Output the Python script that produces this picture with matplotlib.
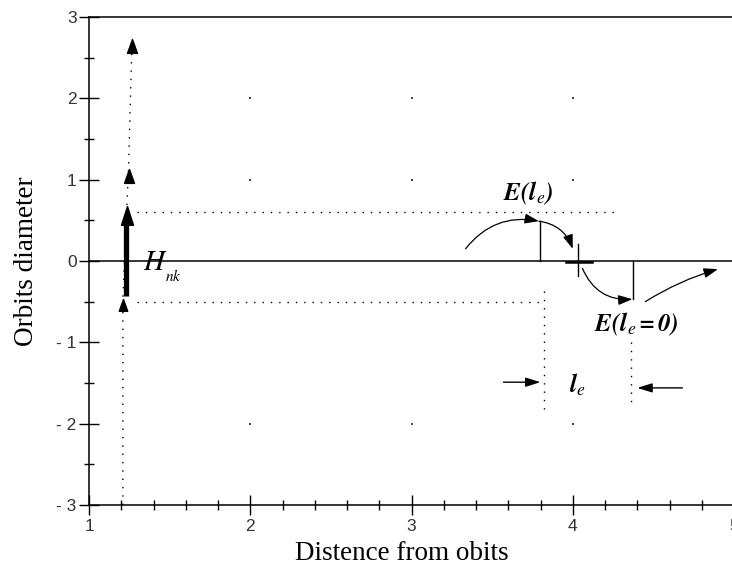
import matplotlib
matplotlib.use("Agg")
import matplotlib.pyplot as plt
from matplotlib.patches import FancyArrowPatch
from matplotlib.ticker import FixedLocator, FixedFormatter, MultipleLocator

plt.rcParams["mathtext.fontset"] = "stix"

# axis setup
x_ticks = [1, 2, 3, 4, 5]
x_tick_labels = ["1", "2", "3", "4", "5"]
y_ticks = [-3, -2, -1, 0, 1, 2, 3]
y_tick_labels = ["- 3", "- 2", "- 1", "0", "1", "2", "3"]

# sparse grid dots
grid_x = [2, 3, 4, 2, 3, 4, 2, 3, 4]
grid_y = [2, 2, 2, 1, 1, 1, -2, -2, -2]

# vertical dotted guide (bottom to top, with arrow tips)
guide_x = [1.21, 1.21, 1.235, 1.245, 1.267]
guide_y = [-3.0, -0.47, 0.68, 1.13, 2.73]
tip_x = [1.245, 1.267]
tip_y = [1.13, 2.73]
low_tip = (1.21, -0.47)

# thick H_nk arrow
hnk_x = [1.232, 1.232]
hnk_y = [-0.43, 0.45]
hnk_tip = (1.235, 0.68)

# horizontal dotted levels
level_upper = (0.6, 1.3, 4.27)
level_lower = (-0.5, 1.3, 3.82)

# vertical dotted markers for l_e
le_left = (3.82, -0.37, -1.82)
le_right = (4.36, -1.0, -1.77)

# measurement arrows  (start, end, y)
arrow_in_left = (3.57, 3.80, -1.49)
arrow_in_right = (4.68, 4.40, -1.56)

# curve pieces: (x0, y0, x1, y1, rad)
curves = [
    (3.335, 0.15, 3.79, 0.49, -0.3),
    (3.79, 0.49, 4.00, 0.15, -0.3),
    (4.06, -0.09, 4.37, -0.47, 0.35),
    (4.45, -0.50, 4.90, -0.10, -0.07),
]

# drops from extremes to the axis
drop_x = [3.795, 4.373]
drop_y = [0.49, -0.47]

# crossing mark
cross_x = 4.03
cross_y = (-0.18, 0.21)
dash_x = (3.96, 4.12)
dash_y = -0.015

fig = plt.figure(figsize=(7.32, 5.70), dpi=100)
ax = fig.add_axes([89 / 732, 65 / 570, 645 / 732, 488 / 570])
ax.set_xlim(1, 5)
ax.set_ylim(-3, 3)

for side in ["left", "bottom", "top"]:
    ax.spines[side].set_linewidth(1.1)
ax.spines["right"].set_visible(False)

ax.xaxis.set_major_locator(FixedLocator(x_ticks))
ax.xaxis.set_major_formatter(FixedFormatter(x_tick_labels))
ax.yaxis.set_major_locator(FixedLocator(y_ticks))
ax.yaxis.set_major_formatter(FixedFormatter(y_tick_labels))
ax.xaxis.set_minor_locator(MultipleLocator(0.2))
ax.yaxis.set_minor_locator(MultipleLocator(0.5))
ax.tick_params(which="major", direction="inout", length=14, width=1.0, labelsize=12.5, colors="black")
ax.tick_params(which="minor", direction="inout", length=7, width=1.0)
ax.tick_params(axis="x", which="major", pad=3)
ax.tick_params(axis="y", which="major", pad=2)
for lab in ax.get_xticklabels() + ax.get_yticklabels():
    lab.set_fontfamily("Liberation Sans")
    lab.set_color("#333333")

ax.set_xlabel("Distence from obits", fontfamily="Liberation Serif", fontsize=19.5)
ax.set_ylabel("Orbits diameter", fontfamily="Liberation Serif", fontsize=19.5)
ax.xaxis.set_label_coords(0.485, -0.074)
ax.yaxis.set_label_coords(-0.078, 0.5)

ax.axhline(0, color="black", lw=1.1)

ax.scatter(grid_x, grid_y, s=1.5, color="#444444", marker="s", linewidths=0)

dotted = dict(color="black", lw=1.0, linestyle=(0, (1, 5)))
ax.plot(guide_x, guide_y, **dotted)
ax.plot([level_upper[1], level_upper[2]], [level_upper[0]] * 2, **dotted)
ax.plot([level_lower[1], level_lower[2]], [level_lower[0]] * 2, **dotted)
ax.plot([le_left[0]] * 2, [le_left[1], le_left[2]], **dotted)
ax.plot([le_right[0]] * 2, [le_right[1], le_right[2]], **dotted)

small_head = [(0, 0), (-0.36, -1), (0.36, -1), (0, 0)]
big_head = [(0, 0), (-0.32, -1), (0.32, -1), (0, 0)]
ax.plot(tip_x, tip_y, linestyle="none", marker=small_head, markersize=20, color="black")
ax.plot([low_tip[0]], [low_tip[1]], linestyle="none", marker=small_head, markersize=17, color="black")

ax.plot(hnk_x, hnk_y, color="black", lw=3.8, solid_capstyle="butt")
ax.plot([hnk_tip[0]], [hnk_tip[1]], linestyle="none", marker=big_head, markersize=27, color="black")

for x0, x1, y in [arrow_in_left, arrow_in_right]:
    ax.annotate("", xy=(x1, y), xytext=(x0, y),
                arrowprops=dict(arrowstyle="-|>,head_length=0.9,head_width=0.28",
                                color="black", lw=1.0, mutation_scale=10, shrinkA=0, shrinkB=0))

for x0, y0, x1, y1, rad in curves:
    ax.add_patch(FancyArrowPatch((x0, y0), (x1, y1), connectionstyle=f"arc3,rad={rad}",
                                 arrowstyle="-|>,head_length=0.85,head_width=0.3",
                                 mutation_scale=10, color="black", lw=0.9,
                                 shrinkA=0, shrinkB=0))

for x, y in zip(drop_x, drop_y):
    ax.plot([x, x], [0, y], color="black", lw=1.0)

ax.plot([cross_x, cross_x], list(cross_y), color="black", lw=1.0)
ax.plot(list(dash_x), [dash_y, dash_y], color="black", lw=1.8)

ax.text(1.335, -0.11, r"$H$", fontsize=21, ha="left", va="baseline")
ax.text(1.47, -0.25, r"$nk$", fontsize=11, ha="left", va="baseline")
ax.text(3.565, 0.74, r"$\mathbfit{E(l}_{e}\mathbfit{)}$", fontsize=18, ha="left", va="baseline")
ax.text(4.13, -0.86, r"$\mathbfit{E(l}_{e}\mathbfit{=0)}$", fontsize=18, ha="left", va="baseline")
ax.text(3.975, -1.62, r"$\mathbfit{l}_{e}$", fontsize=18, ha="left", va="baseline")

fig.savefig("out.png", dpi=100)
